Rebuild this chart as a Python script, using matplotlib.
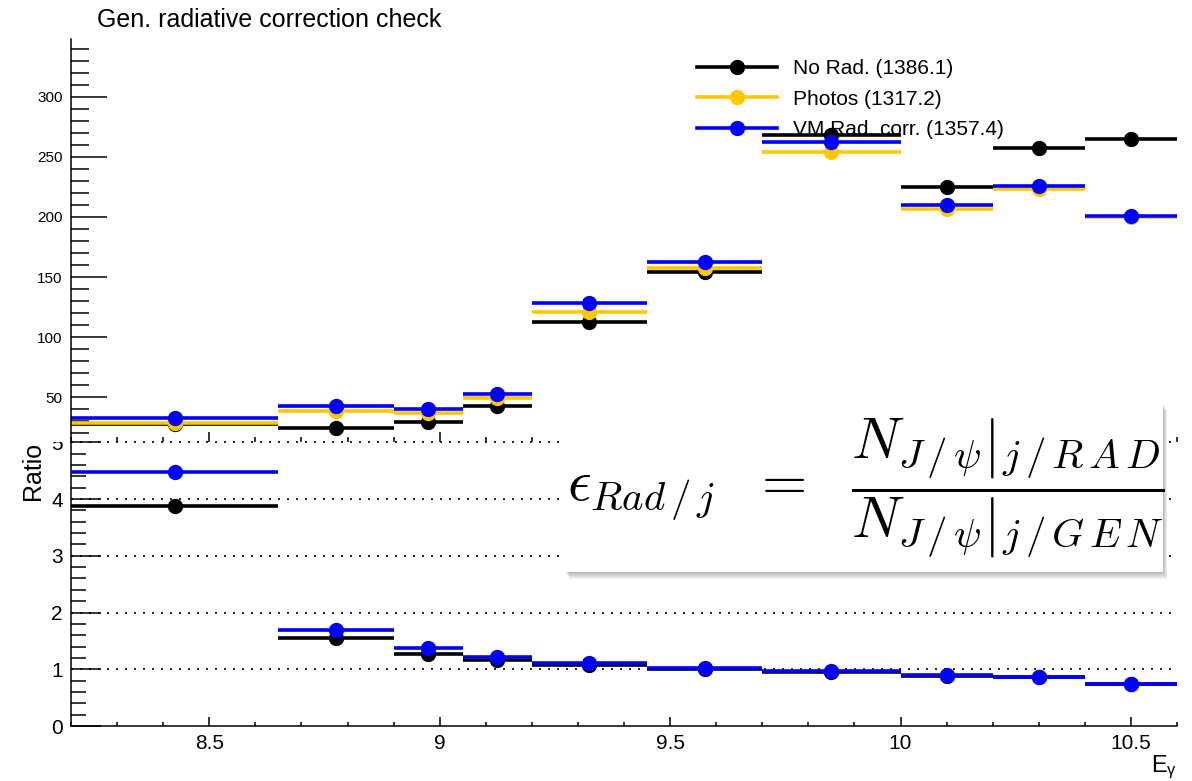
import numpy as np
import matplotlib
matplotlib.use('Agg')
import matplotlib.pyplot as plt
from matplotlib.lines import Line2D
from matplotlib.patches import Rectangle
from matplotlib.ticker import MultipleLocator, FormatStrFormatter

plt.rcParams['font.family'] = ['Liberation Sans', 'DejaVu Sans']
plt.rcParams['mathtext.fontset'] = 'custom'
plt.rcParams['mathtext.rm'] = 'Liberation Sans'
plt.rcParams['mathtext.it'] = 'Liberation Sans:italic'

# photon energy bins
edges = np.array([8.2, 8.65, 8.9, 9.05, 9.2, 9.45, 9.7, 10.0, 10.2, 10.4, 10.6])

# generated yields per bin
norad = [28.0, 24.7, 29.2, 43.0, 112.6, 154.0, 268.0, 225.2, 257.6, 264.6]
photos = [28.4, 38.9, 36.7, 49.2, 120.9, 157.5, 254.3, 206.6, 223.5, 199.7]
vmrad = [32.5, 43.0, 40.3, 52.7, 128.4, 162.5, 262.6, 209.9, 225.7, 200.8]

# ratios per bin
ratio_norad = [3.88, 1.55, 1.27, 1.16, 1.07, 1.00, 0.95, 0.89, 0.87, 0.745]
ratio_vmrad = [4.48, 1.69, 1.37, 1.21, 1.11, 1.03, 0.975, 0.90, 0.87, 0.745]

labels = ['No Rad. (1386.1)', 'Photos (1317.2)', 'VM Rad. corr. (1357.4)']

gold = '#ffc800'
blue = '#0000ff'

W, H = 1192, 781
fig = plt.figure(figsize=(W / 100, H / 100), dpi=100)


def fx(px):
    return px / W


def fy(py):
    return 1 - py / H


x0, x1 = 71, 1177
y_top, y_mid, y_bot = 39.3, 442.3, 726

ax_lo = fig.add_axes([fx(x0), fy(y_bot), fx(x1) - fx(x0), fy(y_mid) - fy(y_bot)])
ax_up = fig.add_axes([fx(x0), fy(y_mid), fx(x1) - fx(x0), fy(y_top) - fy(y_mid)])
ax_up.set_facecolor('none')

lo, hi = edges[:-1], edges[1:]
centers = 0.5 * (lo + hi)

# upper pad: yields
for vals, col in ((norad, 'black'), (photos, gold), (vmrad, blue)):
    ax_up.hlines(vals, lo, hi, color=col, lw=2.6)
    ax_up.plot(centers, vals, 'o', color=col, ms=10)

ax_up.set_xlim(8.2, 10.6)
ax_up.set_ylim(12.57, 347.7)
for s in ('top', 'right', 'bottom'):
    ax_up.spines[s].set_visible(False)
ax_up.spines['left'].set_linewidth(1.1)
ax_up.yaxis.set_major_locator(MultipleLocator(50))
ax_up.yaxis.set_minor_locator(MultipleLocator(10))
ax_up.xaxis.set_major_locator(MultipleLocator(0.5))
ax_up.xaxis.set_minor_locator(MultipleLocator(0.1))
ax_up.tick_params(axis='y', which='major', direction='in', length=26, width=1.1,
                  labelsize=11, pad=6)
ax_up.tick_params(axis='y', which='minor', direction='in', length=13, width=1.1)
ax_up.tick_params(axis='x', which='major', direction='in', length=7, width=1.1,
                  labelbottom=False)
ax_up.tick_params(axis='x', which='minor', direction='in', length=3.5, width=1.1)

handles = [Line2D([], [], color=c, lw=2.6, marker='o', ms=10)
           for c in ('black', gold, blue)]
ax_up.legend(handles, labels, loc='upper left', bbox_to_anchor=(fx(697), fy(59)),
             bbox_transform=fig.transFigure, frameon=False, fontsize=15,
             handlelength=3.85, handletextpad=0.75, labelspacing=0.56,
             borderpad=0, borderaxespad=0)

fig.text(fx(97), fy(20), 'Gen. radiative correction check', fontsize=18,
         ha='left', va='center')

# lower pad: ratios
for v in range(1, 6):
    ax_lo.axhline(v, color='black', lw=1.2, ls=(0, (1.2, 4.2)), zorder=1, clip_on=False)
for vals, col in ((ratio_norad, 'black'), (ratio_vmrad, blue)):
    ax_lo.hlines(vals, lo, hi, color=col, lw=2.6, zorder=3)
    ax_lo.plot(centers, vals, 'o', color=col, ms=10, zorder=3)

ax_lo.set_xlim(8.2, 10.6)
ax_lo.set_ylim(0, 5)
for s in ('top', 'right'):
    ax_lo.spines[s].set_visible(False)
for s in ('left', 'bottom'):
    ax_lo.spines[s].set_linewidth(1.1)
ax_lo.yaxis.set_major_locator(MultipleLocator(1))
ax_lo.yaxis.set_minor_locator(MultipleLocator(0.2))
ax_lo.xaxis.set_major_locator(MultipleLocator(0.5))
ax_lo.xaxis.set_minor_locator(MultipleLocator(0.1))
ax_lo.xaxis.set_major_formatter(FormatStrFormatter('%g'))
ax_lo.tick_params(axis='y', which='major', direction='in', length=21.6, width=1.1,
                  labelsize=15, pad=6)
ax_lo.tick_params(axis='y', which='minor', direction='in', length=10.8, width=1.1)
ax_lo.tick_params(axis='x', which='major', direction='in', length=6.7, width=1.1,
                  labelsize=15, pad=6)
ax_lo.tick_params(axis='x', which='minor', direction='in', length=3.2, width=1.1)

ax_lo.set_ylabel('Ratio', fontsize=18, loc='top')
ax_lo.yaxis.set_label_coords(-0.0235, 1.0)
ax_lo.set_xlabel(r'$\mathrm{E}_{\mathrm{\gamma}}$', fontsize=17, loc='right')
ax_lo.xaxis.set_label_coords(1.0, -0.098)

# upper pad covers the top of the "5" label
fig.patches.append(Rectangle((fx(38), fy(441.5)), fx(69) - fx(38), fy(404) - fy(441.5),
                             transform=fig.transFigure, facecolor='white',
                             edgecolor='none', zorder=5))

# formula box with soft shadow
ax_box = fig.add_axes([fx(555), fy(592), fx(1180) - fx(555), fy(395) - fy(592)])
ax_box.set_zorder(10)
ax_box.set_xlim(555, 1180)
ax_box.set_ylim(592, 395)
ax_box.axis('off')
bx, by, bw, bh = 565, 403, 598, 169
for d in range(1, 8):
    ax_box.add_patch(Rectangle((bx + d * 0.6, by + d), bw, bh, facecolor='black',
                               edgecolor='none', alpha=0.045))
ax_box.add_patch(Rectangle((bx, by), bw, bh, facecolor='white', edgecolor='none'))
ax_box.text(567, 488,
            r'$\epsilon_{Rad\,/\,j}\ \ =\ \ '
            r'\dfrac{\left.N_{J\,/\,\psi}\right|_{j\,/\,R\,A\,D}}'
            r'{\left.N_{J\,/\,\psi}\right|_{j\,/\,G\,E\,N}}$',
            math_fontfamily='cm', fontsize=42, ha='left', va='center')

fig.savefig('out.png', dpi=100, facecolor='white')
